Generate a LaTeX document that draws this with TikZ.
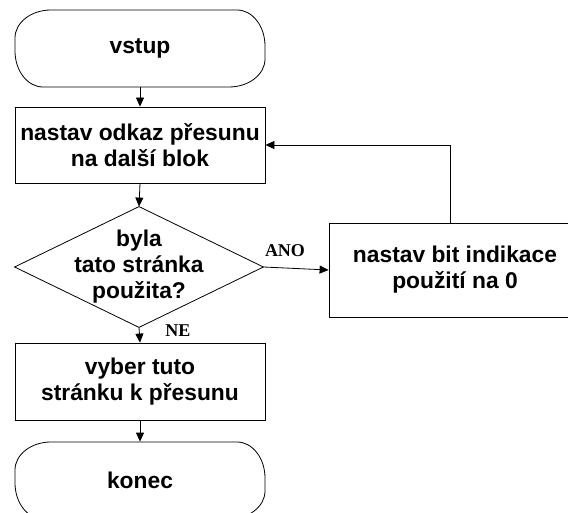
\documentclass[tikz,border=0pt]{standalone}
\usepackage{fontspec}
\setmainfont{Liberation Sans}
\newfontfamily\lblfont{Liberation Serif}
\usetikzlibrary{arrows.meta}
\begin{document}
\begin{tikzpicture}[x=1pt,y=-1pt,
  line width=0.8pt,
  boxtext/.style={font=\bfseries\fontsize{22.8}{26}\selectfont, align=center, inner sep=0pt},
  procbox/.style={boxtext, draw, rectangle, minimum width=250pt},
  termcorners/.code={\pgfsetcornersarced{\pgfpoint{36pt}{28pt}}},
  termbox/.style={boxtext, draw, rectangle, termcorners, minimum width=250pt, minimum height=77pt},
  decbox/.style={boxtext, rectangle, minimum width=248pt, minimum height=120pt},
  arr/.style={-{Triangle[length=9pt,width=8pt]}},
  lbl/.style={font=\lblfont\bfseries\fontsize{18}{19}\selectfont, inner sep=0pt}
]
\useasboundingbox (0,0) rectangle (568,513);
\clip (0,0) rectangle (568,513);

% flowchart blocks
\node[termbox] (start) at (140,48.5) {vstup};
\node[procbox, minimum height=76pt] (b1) at (140,145) {nastav odkaz přesunu\\na další blok};
\node[decbox] (dia) at (139,267) {byla\\tato stránka\\použita?};
\draw (dia.north) -- (dia.east) -- (dia.south) -- (dia.west) -- cycle;
\node[procbox, minimum width=252pt, minimum height=94pt] (b2) at (455,270) {nastav bit indikace\\použití na 0};
\node[procbox, minimum height=77pt] (b3) at (140,381.5) {vyber tuto\\stránku k přesunu};
\node[termbox] (stop) at (140,480.5) {konec};

% connectors
\coordinate (fbx) at (450,0);
\draw[arr] (start.south) -- (b1.north);
\draw[arr] (b1.south) -- (dia.north);
\draw[arr] (dia.east) -- (b2.west);
\draw[arr] (b2.north -| fbx) |- (b1.east);
\draw[arr] (dia.south) -- (b3.north);
\draw[arr] (b3.south) -- (stop.north);

% branch labels
\node[lbl] (yes) at (285,251) {ANO};
\node[lbl] (no) at (178,331) {NE};
\end{tikzpicture}
\end{document}
